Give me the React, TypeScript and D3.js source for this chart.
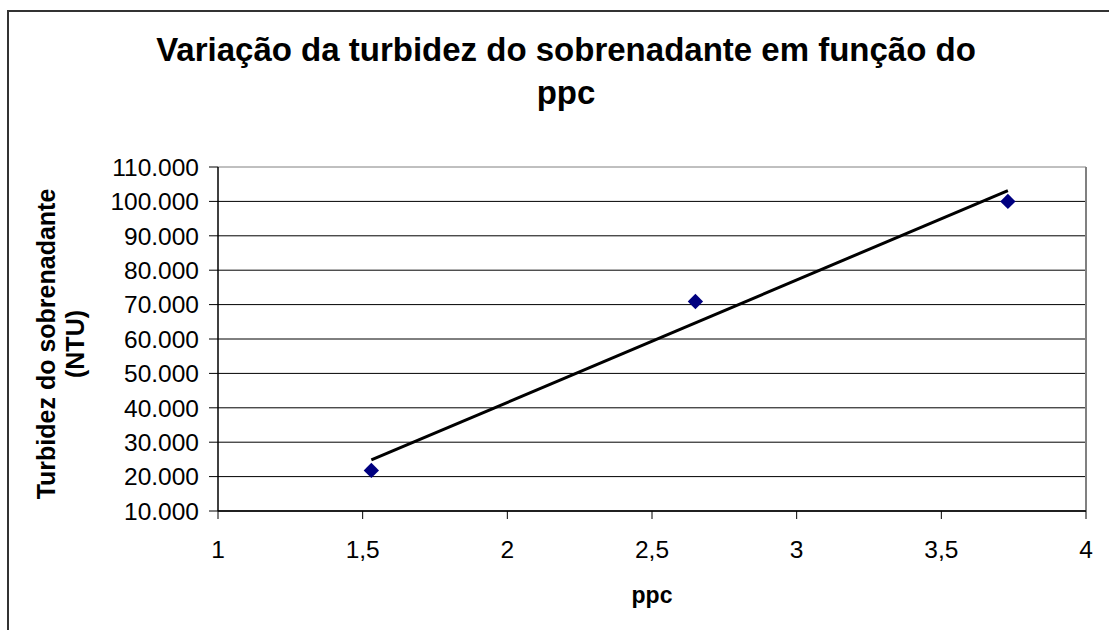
import React from "react";
import * as d3 from "d3";

const titleLines = ["Variação da turbidez do sobrenadante em função do", "ppc"];
const xAxisTitle = "ppc";
const yAxisTitleLines = ["Turbidez do sobrenadante", "(NTU)"];

const ppc = [1.53, 2.65, 3.73];
const turbidez = [21800, 70900, 100000];

const xTicks = [1, 1.5, 2, 2.5, 3, 3.5, 4];
const yTicks = [10000, 20000, 30000, 40000, 50000, 60000, 70000, 80000, 90000, 100000, 110000];

const W = 1109;
const H = 630;
const left = 218;
const right = 1086;
const top = 167;
const bottom = 511;

const ptLocale = d3.formatLocale({
  decimal: ",",
  thousands: ".",
  grouping: [3],
  currency: ["R$", ""],
});
const fmtY = ptLocale.format(",.0f");
const fmtX = ptLocale.format("~g");

export default function App() {
  const x = d3.scaleLinear().domain([1, 4]).range([left, right]);
  const y = d3.scaleLinear().domain([10000, 110000]).range([bottom, top]);

  // linear trendline (least squares) from the data
  const mx = d3.mean(ppc)!;
  const my = d3.mean(turbidez)!;
  let sxy = 0;
  let sxx = 0;
  ppc.forEach((v, i) => {
    sxy += (v - mx) * (turbidez[i] - my);
    sxx += (v - mx) * (v - mx);
  });
  const slope = sxy / sxx;
  const icpt = my - slope * mx;
  const x0 = d3.min(ppc)!;
  const x1 = d3.max(ppc)!;
  const trend = d3.line<number>()
    .x((d) => x(d))
    .y((d) => y(icpt + slope * d))([x0, x1]);

  const diamond = d3.symbol().type(d3.symbolDiamond2).size(150)();
  const font = "Arial, 'Liberation Sans', sans-serif";

  return (
    <svg
      width={W}
      height={H}
      style={{ position: "absolute", left: 0, top: 0, background: "#fff" }}
      fontFamily={font}
    >
      <rect x={8} y={11} width={1130} height={660} fill="#fff" stroke="#333" strokeWidth={2} />
      {titleLines.map((t, i) => (
        <text
          key={i}
          x={566}
          y={61 + i * 43}
          textAnchor="middle"
          fontWeight="bold"
          fontSize={33}
          fill="#000"
        >
          {t}
        </text>
      ))}
      {/* gridlines */}
      {yTicks.map((t) => (
        <line
          key={"g" + t}
          x1={left}
          x2={right}
          y1={y(t)}
          y2={y(t)}
          stroke={t === 110000 ? "#808080" : "#000"}
          strokeWidth={1}
        />
      ))}
      <line x1={right} x2={right} y1={top} y2={bottom} stroke="#808080" strokeWidth={2} />
      {/* axes */}
      <line x1={left} x2={left} y1={top} y2={bottom} stroke="#000" strokeWidth={1.5} />
      <line x1={left} x2={right} y1={bottom} y2={bottom} stroke="#000" strokeWidth={1.5} />
      {yTicks.map((t) => (
        <g key={"y" + t}>
          <line x1={left - 9} x2={left} y1={y(t)} y2={y(t)} stroke="#000" strokeWidth={1} />
          <text x={199} y={y(t)} dy="0.36em" textAnchor="end" fontSize={24.5} fill="#000">
            {fmtY(t)}
          </text>
        </g>
      ))}
      {xTicks.map((t) => (
        <g key={"x" + t}>
          <line x1={x(t)} x2={x(t)} y1={bottom} y2={bottom + 8} stroke="#000" strokeWidth={1} />
          <text x={x(t)} y={558} textAnchor="middle" fontSize={24.5} fill="#000">
            {fmtX(t)}
          </text>
        </g>
      ))}
      {/* trendline */}
      <path d={trend || ""} fill="none" stroke="#000" strokeWidth={3} />
      {/* points */}
      {ppc.map((v, i) => (
        <path
          key={"p" + i}
          d={diamond || ""}
          transform={`translate(${x(v)},${y(turbidez[i])})`}
          fill="#000080"
        />
      ))}
      {/* axis titles */}
      <text x={652} y={603} textAnchor="middle" fontWeight="bold" fontSize={23} fill="#000">
        {xAxisTitle}
      </text>
      {yAxisTitleLines.map((t, i) => (
        <text
          key={"yt" + i}
          transform={`translate(${55 + i * 29},344) rotate(-90)`}
          textAnchor="middle"
          fontWeight="bold"
          fontSize={25}
          fill="#000"
        >
          {t}
        </text>
      ))}
    </svg>
  );
}
